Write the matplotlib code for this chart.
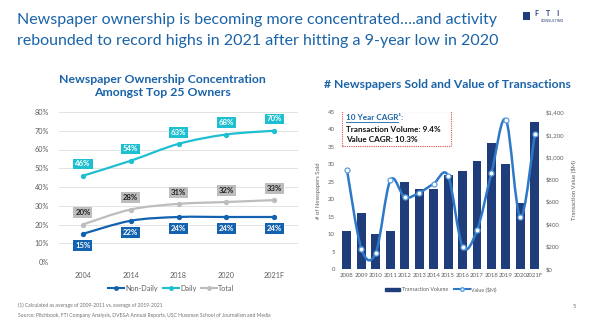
import numpy as np
import matplotlib.pyplot as plt
from matplotlib.path import Path
from matplotlib.patches import PathPatch, Rectangle
from matplotlib.lines import Line2D

plt.rcParams['font.family'] = ['Lato', 'DejaVu Sans']

# ownership chart
years_own = ["2004", "2014", "2018", "2020", "2021F"]
non_daily = [15, 22, 24, 24, 24]
daily = [46, 54, 63, 68, 70]
total = [20, 28, 31, 32, 33]

# transactions chart
years_deal = ["2008", "2009", "2010", "2011", "2012", "2013", "2014",
              "2015", "2016", "2017", "2018", "2019", "2020", "2021F"]
volume = [11, 16, 10, 11, 25, 23, 23, 27, 28, 31, 36, 30, 19, 42]
value = [885, 180, 145, 790, 640, 680, 760, 830, 200, 345, 855, 1330, 460, 1200]

BLUE_T = "#1a63a8"
NAVY = "#1f3d7a"
LINE_B = "#2e78c8"
DARK = "#1362b0"
CYAN = "#1dbfd0"
GRAY = "#bdbdbd"
TICK = "#606060"

W, H = 600, 327


def px_axes(fig, x0, y0, x1, y1):
    return fig.add_axes([x0 / W, 1 - y1 / H, (x1 - x0) / W, (y1 - y0) / H])


def smooth_path(x, y, t=1 / 6):
    # excel style smoothed line as cubic bezier through the points
    pts = np.column_stack([x, y]).astype(float)
    n = len(pts)
    verts = [pts[0]]
    codes = [Path.MOVETO]
    for i in range(n - 1):
        p0 = pts[max(i - 1, 0)]
        p1 = pts[i]
        p2 = pts[i + 1]
        p3 = pts[min(i + 2, n - 1)]
        verts += [p1 + (p2 - p0) * t, p2 - (p3 - p1) * t, p2]
        codes += [Path.CURVE4] * 3
    return Path(verts, codes)


fig = plt.figure(figsize=(6, 3.27), dpi=100)
fig.patch.set_facecolor("white")

# header
fig.text(17 / W, 1 - 20 / H, "Newspaper ownership is becoming more concentrated….and activity",
         color=BLUE_T, fontsize=11.55, va="center", ha="left")
fig.text(17 / W, 1 - 41 / H, "rebounded to record highs in 2021 after hitting a 9-year low in 2020",
         color=BLUE_T, fontsize=11.55, va="center", ha="left")

# logo
fig.patches.append(Rectangle((523 / W, 1 - 20 / H), 7 / W, 8 / H, transform=fig.transFigure,
                             facecolor=NAVY, edgecolor="none"))
fig.text(535 / W, 1 - 13.5 / H, "F    T    I", color=NAVY, fontsize=5, fontweight="bold",
         va="center", ha="left")
fig.text(541 / W, 1 - 20.5 / H, "CONSULTING", color=NAVY, fontsize=2.6,
         va="center", ha="left")

# ---- left chart
fig.text(162 / W, 1 - 86 / H, "Newspaper Ownership Concentration\nAmongst Top 25 Owners",
         color=BLUE_T, fontsize=8.8, fontweight="bold", ha="center", va="center",
         linespacing=1.15)

ax = px_axes(fig, 59, 112, 298, 262)
x = np.arange(len(years_own))
series = [("Non-Daily", non_daily, DARK, "white", -1),
          ("Daily", daily, CYAN, "white", 1),
          ("Total", total, GRAY, "#222222", 1)]
for name, vals, col, tcol, side in series:
    ax.add_patch(PathPatch(smooth_path(x, vals), facecolor="none", edgecolor=col, lw=1.6,
                           capstyle="round", zorder=3))
    ax.plot(x, vals, "o", color=col, ms=2.8, zorder=4)
    for xi, v in zip(x, vals):
        ax.annotate(f"{v}%", (xi, v), xytext=(0, 8.5 * side), textcoords="offset points",
                    ha="center", va="center", fontsize=5.6, fontweight="bold", color=tcol,
                    bbox=dict(boxstyle="square,pad=0.25", fc=col, ec="none"), zorder=5)

ax.set_xlim(-0.5, 4.5)
ax.set_ylim(0, 80)
ax.set_yticks(range(0, 81, 10))
ax.set_yticklabels([f"{v}%" for v in range(0, 81, 10)])
ax.set_xticks(x)
ax.set_xticklabels(years_own)
ax.grid(axis="y", color="#e3e3e3", lw=0.7)
ax.set_axisbelow(True)
for s in ax.spines.values():
    s.set_visible(False)
ax.tick_params(length=0, labelsize=5.2, labelcolor=TICK, pad=7)
handles = [Line2D([], [], color=c, lw=1.5, marker="o", ms=2.5) for _, _, c, _, _ in series]
ax.legend(handles, [s[0] for s in series], loc="upper center", bbox_to_anchor=(0.47, -0.11),
          ncol=3, frameon=False, fontsize=5.2, handlelength=2.2, columnspacing=0.6,
          handletextpad=0.2, labelcolor=TICK)

# ---- right chart
fig.text(447 / W, 1 - 84 / H, "# Newspapers Sold and Value of Transactions",
         color=BLUE_T, fontsize=8.7, fontweight="bold", ha="center", va="center")

ax2 = px_axes(fig, 339, 112, 542, 269)
xd = np.arange(len(years_deal))
ax2.bar(xd, volume, width=0.62, color=NAVY, zorder=2)
ax2.set_xlim(-0.55, 13.5)
ax2.set_ylim(0, 45)
ax2.set_yticks(range(0, 46, 5))
ax2.set_xticks(xd)
ax2.set_xticklabels(years_deal)
ax2.tick_params(length=0, labelsize=4.3, labelcolor=TICK, pad=3)
ax2.set_ylabel("# of Newspapers Sold", fontsize=4.2, color=TICK, labelpad=5)
for s in ax2.spines.values():
    s.set_visible(False)

ax3 = ax2.twinx()
ax3.add_patch(PathPatch(smooth_path(xd, value), facecolor="none", edgecolor=LINE_B, lw=1.8,
                        zorder=3))
ax3.plot(xd, value, "o", mfc="white", mec="#5aa0e0", mew=0.9, ms=3.6, ls="none", zorder=4)
ax3.set_ylim(0, 1400)
ax3.set_yticks(range(0, 1401, 200))
ax3.set_yticklabels([f"${v:,}" for v in range(0, 1401, 200)])
ax3.tick_params(length=0, labelsize=4.3, labelcolor=TICK, pad=3)
ax3.set_ylabel("Transaction Value ($M)", fontsize=4.2, color=TICK, labelpad=4)
for s in ax3.spines.values():
    s.set_visible(False)

handles2 = [Rectangle((0, 0), 1, 1, color=NAVY),
            Line2D([], [], color=LINE_B, lw=1.5, marker="o", mfc="white", mec="#5aa0e0", ms=2.5)]
ax2.legend(handles2, ["Transaction Volume", "Value ($M)"], loc="upper center",
           bbox_to_anchor=(0.5, -0.08), ncol=2, frameon=False, fontsize=3.8,
           handlelength=3.0, handleheight=0.6, columnspacing=1.2, handletextpad=0.2,
           labelcolor=TICK)

# CAGR call-out box
ax2.add_patch(Rectangle((342 / W, 1 - 146 / H), 109 / W, 35 / H, transform=fig.transFigure,
                        facecolor="white", edgecolor="#d9534f", lw=0.8, ls=(0, (1, 1)),
                        zorder=6))
fig.text(346 / W, 1 - 117.5 / H, "10 Year CAGR¹:", color=BLUE_T, fontsize=5.9,
         fontweight="bold", va="center", zorder=7)
fig.add_artist(Line2D([346 / W, 398 / W], [1 - 122 / H, 1 - 122 / H], color=BLUE_T, lw=0.6,
                      transform=fig.transFigure))
fig.text(346 / W, 1 - 129 / H, "Transaction Volume: 9.4%", color="#111111", fontsize=5.9,
         fontweight="bold", va="center", zorder=7)
fig.text(346 / W, 1 - 140 / H, "Value CAGR: 10.3%", color="#111111", fontsize=5.9,
         fontweight="bold", va="center", zorder=7)

# footer
fig.text(18 / W, 1 - 305 / H, "(1) Calculated as average of 2009-2011 vs. average of 2019-2021",
         fontsize=3.6, color="#707070", va="center")
fig.text(18 / W, 1 - 316 / H,
         "Source: Pitchbook, FTI Company Analysis, DVE&A Annual Reports, USC Hussman School of Journalism and Media",
         fontsize=3.6, color="#707070", va="center")
fig.text(573 / W, 1 - 306 / H, "5", fontsize=4, color="#707070", va="center")

fig.savefig("out.png", dpi=100, facecolor="white")
